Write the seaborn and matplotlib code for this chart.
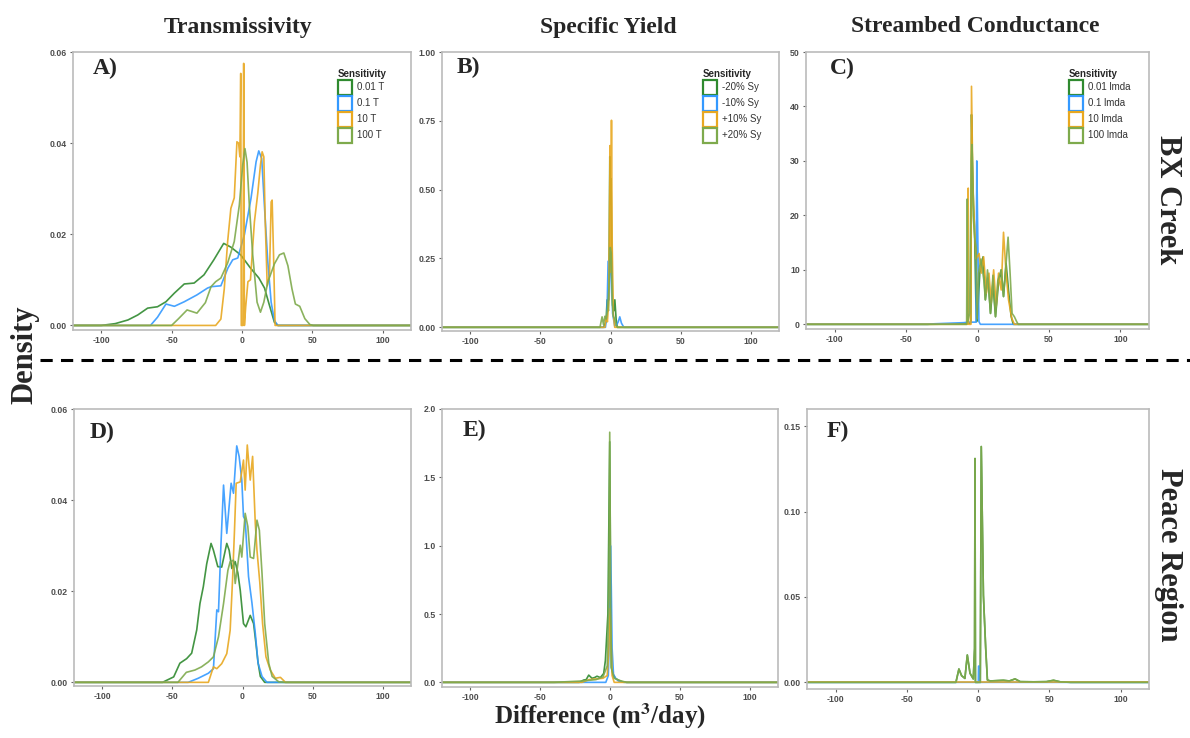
import matplotlib
matplotlib.use("Agg")
import matplotlib.pyplot as plt
from matplotlib.patches import Patch
from matplotlib.lines import Line2D
import pandas as pd
import seaborn as sns

# ---------------- data ----------------
# Panel A : BX Creek, Transmissivity
A_x_001 = [-120, -100, -90, -81, -74, -67, -60, -54, -48, -41, -34, -27, -20, -13, -8, -1, 6, 12, 16, 19.5, 23, 25.5, 120]
A_y_001 = [0, 0, 0.0004, 0.0012, 0.0023, 0.0038, 0.0041, 0.0052, 0.0071, 0.0091, 0.0093, 0.0111, 0.0144, 0.018, 0.0172, 0.0155, 0.0126, 0.0104, 0.0082, 0.0044, 0.0007, 0, 0]
A_x_01 = [-120, -65, -60, -54, -48, -41, -32, -24.5, -22, -15, -10, -6.6, -3, 1.7, 6.4, 10, 11.9, 14, 15.9, 18.3, 20.7, 23, 25.4, 120]
A_y_01 = [0, 0, 0.0018, 0.0047, 0.0042, 0.0052, 0.0067, 0.0082, 0.0085, 0.0087, 0.0126, 0.0144, 0.0148, 0.0199, 0.0279, 0.0359, 0.0383, 0.0366, 0.0264, 0.014, 0.0051, 0.0011, 0, 0]
A_x_10 = [-120, -18.7, -15, -12.6, -10.2, -7.9, -5.5, -3.6, -2.4, -1.5, -0.9, -0.5, 0.7, 1.2, 1.7, 2.6, 4.2, 6, 8.8, 11.2, 13.1, 14.3, 15.5, 16.5, 17.9, 19.5, 20.7, 21.4, 22.4, 23.5, 120]
A_y_10 = [0, 0, 0.0014, 0.008, 0.0184, 0.0257, 0.028, 0.0403, 0.040, 0.037, 0.0553, 0, 0, 0.0575, 0, 0.004, 0.0096, 0.0100, 0.0227, 0.029, 0.0352, 0.0381, 0.037, 0.0227, 0.0087, 0.0109, 0.0271, 0.0275, 0.0154, 0, 0]
A_x_100 = [-120, -50, -45, -39, -32, -26, -22, -18.7, -15, -10.2, -5.5, -1.9, 0.5, 2.1, 3.6, 5.2, 7.6, 10.7, 13.1, 15.5, 18.3, 23, 26.6, 29.7, 32.6, 35.5, 37.9, 41, 44.6, 48.2, 50.6, 120]
A_y_100 = [0, 0, 0.0015, 0.0034, 0.0027, 0.005, 0.0085, 0.0096, 0.0104, 0.0137, 0.0184, 0.0264, 0.0352, 0.0388, 0.0358, 0.0264, 0.0155, 0.0051, 0.0029, 0.0051, 0.0095, 0.0135, 0.0155, 0.0159, 0.0131, 0.008, 0.0047, 0.0042, 0.0015, 0.0002, 0, 0]

# Panel B : BX Creek, Specific Yield
B_x_m20 = [-120, -5, -3.2, -2.4, -1.5, -0.9, -0.5, 0, 0.4, 0.8, 1.5, 2.4, 3.1, 4, 4.8, 120]
B_y_m20 = [0, 0, 0.02, 0.10, 0.06, 0.3, 0.62, 0.45, 0.54, 0.3, 0.08, 0.06, 0.10, 0.03, 0, 0]
B_x_m10 = [-120, -3.6, -2.5, -1.7, -1.0, -0.3, 0.5, 1.5, 3, 4.5, 5.5, 6.6, 7.8, 9.5, 120]
B_y_m10 = [0, 0, 0.05, 0.24, 0.1, 0.2, 0.28, 0.05, 0.005, 0.01, 0.02, 0.038, 0.015, 0, 0]
B_x_p10 = [-120, -4, -3.1, -2.2, -1.2, -0.3, 0.1, 0.7, 1.2, 2, 3, 120]
B_y_p10 = [0, 0, 0.04, 0.02, 0.1, 0.66, 0.2, 0.752, 0.3, 0.05, 0, 0]
B_x_p20 = [-120, -7.5, -6, -5, -4, -3, -2, -1, -0.2, 0.5, 1.2, 2, 3, 4, 5, 120]
B_y_p20 = [0, 0, 0.038, 0.01, 0.04, 0.03, 0.07, 0.15, 0.29, 0.27, 0.1, 0.04, 0.03, 0.01, 0, 0]

# Panel C : BX Creek, Streambed Conductance
C_x_001 = [-120, -35, -20, -10, -5.5, -4.6, -4.2, -3.6, -2.8, -2.1, -1.2, -0.6, 0.2, 1.6, 3.9, 5.5, 7.3, 9.1, 10.8, 12.6, 14.5, 16.6, 18.2, 20, 21.8, 23.5, 25, 120]
C_y_001 = [0, 0, 0.05, 0.1, 0.2, 0.3, 38.5, 30, 22, 18, 5, 0.5, 2.5, 9.4, 12.4, 4.5, 8.5, 2.0, 7.5, 1.4, 7, 10.0, 5.1, 11.2, 6, 1.5, 0, 0]
C_x_01 = [-120, -35, -30, -20, -10, -6, -1.0, -0.5, 0, 0.5, 1.0, 2, 120]
C_y_01 = [0, 0, 0.1, 0.2, 0.3, 0.4, 0.4, 30, 20, 10, 0.5, 0, 0]
C_x_10 = [-120, -7, -6.5, -6.2, -4.6, -4.2, -3.2, -2.0, -1.0, 0, 1.1, 2.7, 4.3, 6.2, 8.0, 9.6, 11.3, 13.1, 14.7, 16.6, 18.2, 20, 21.7, 24, 25.8, 120]
C_y_10 = [0, 0, 25, 0, 0, 43.7, 25, 17, 12, 12.5, 13.0, 9.4, 12.4, 5.7, 9.4, 3.9, 10.0, 3.3, 9.4, 6.3, 16.9, 9.4, 4.5, 1.1, 0, 0]
C_x_100 = [-120, -7.6, -7.2, -6.8, -5.5, -4.3, -3.8, -3, -2, -1, -0.3, 0.8, 2.4, 4.5, 5.5, 7.0, 9.1, 10.8, 12.6, 14.2, 16.6, 18.2, 20, 21.4, 22.8, 24.2, 25.8, 27.4, 28.5, 120]
C_y_100 = [0, 0, 23, 0.5, 2, 30, 33, 20, 16, 14, 1, 9.4, 12.0, 8, 4.5, 10, 2.0, 9, 1.4, 8, 10.0, 5.1, 11.2, 16, 9.4, 2.0, 1.4, 0.5, 0, 0]

# Panel D : Peace Region, Transmissivity
D_x_001 = [-120, -57, -49, -44.6, -39.8, -36.2, -32.6, -30.3, -27.9, -25.5, -22.4, -20.7, -17.6, -14.8, -11.2, -9.5, -7.6, -5.2, -3.3, -1.6, 0.7, 2.4, 5.5, 7.9, 9.6, 11, 12.7, 15.8, 120]
D_y_001 = [0, 0, 0.0012, 0.0042, 0.0052, 0.0064, 0.0115, 0.0173, 0.021, 0.026, 0.0305, 0.029, 0.0254, 0.0253, 0.0305, 0.029, 0.025, 0.0265, 0.024, 0.0202, 0.0129, 0.0122, 0.0147, 0.0129, 0.0085, 0.0045, 0.0013, 0, 0]
D_x_01 = [-120, -38.7, -31.5, -24.3, -20.7, -18.3, -17.1, -15.4, -13.5, -11.2, -8.1, -6.4, -4.1, -2.4, -0.5, 0.7, 1.9, 4.3, 6.7, 9.1, 11.1, 13.9, 17.4, 120]
D_y_01 = [0, 0, 0.0009, 0.002, 0.003, 0.0159, 0.0155, 0.0298, 0.0433, 0.0327, 0.0437, 0.0415, 0.0519, 0.0496, 0.0444, 0.0364, 0.0357, 0.0232, 0.0175, 0.0108, 0.0042, 0.0013, 0, 0]
D_x_10 = [-120, -24.3, -20.7, -18.3, -14.8, -11.2, -8.8, -7.1, -5.7, -4.5, -1.6, 0.7, 1.9, 3.4, 5.5, 7.2, 9.1, 10.3, 12.3, 14.3, 16.7, 19.8, 23.4, 27, 30.6, 120]
D_y_10 = [0, 0, 0.0034, 0.0030, 0.0041, 0.0063, 0.0114, 0.0224, 0.0334, 0.0437, 0.044, 0.0488, 0.0422, 0.0521, 0.0444, 0.0496, 0.0349, 0.029, 0.022, 0.0129, 0.0056, 0.0027, 0.0009, 0.0011, 0, 0]
D_x_100 = [-120, -46, -40, -33.9, -29.2, -24.3, -20.7, -17.1, -13.5, -10.4, -8.8, -6.4, -5.2, -3.3, -1.6, -0.5, 1.9, 3.8, 5.5, 7.9, 10.3, 12, 13.9, 15.8, 18.7, 21.1, 25.9, 30.6, 120]
D_y_100 = [0, 0, 0.0022, 0.0027, 0.0034, 0.0045, 0.0056, 0.01, 0.0173, 0.0246, 0.0265, 0.0268, 0.0217, 0.026, 0.0301, 0.0275, 0.0371, 0.0342, 0.0275, 0.0272, 0.0356, 0.0334, 0.0239, 0.0129, 0.0042, 0.0013, 0.0001, 0, 0]

# Panel E : Peace Region, Specific Yield
E_x_m20 = [-120, -22, -18.8, -17, -15.2, -12.9, -11, -9.3, -6.9, -4.5, -3.3, -1.5, -0.2, 0.4, 0.9, 2, 3.8, 6, 8.6, 12, 120]
E_y_m20 = [0, 0, 0.017, 0.02, 0.053, 0.03, 0.035, 0.045, 0.035, 0.065, 0.16, 0.5, 1.76, 0.8, 0.11, 0.06, 0.03, 0.015, 0.005, 0, 0]
E_x_m10 = [-120, -3, -1.2, -0.3, 0.3, 0.9, 1.5, 2.5, 4, 6, 10, 120]
E_y_m10 = [0, 0, 0.05, 0.4, 1.0, 0.7, 0.25, 0.06, 0.03, 0.01, 0, 0]
E_x_p10 = [-120, -20, -15, -10, -5, -2, -1, 0.1, 0.8, 1.5, 3, 120]
E_y_p10 = [0, 0, 0.02, 0.025, 0.03, 0.05, 0.2, 0.54, 0.3, 0.05, 0, 0]
E_x_p20 = [-120, -40, -30, -20, -10, -5, -2, -0.8, -0.2, 0.5, 1.2, 3, 8, 12, 120]
E_y_p20 = [0, 0, 0.005, 0.01, 0.02, 0.04, 0.12, 0.6, 1.83, 0.5, 0.1, 0.03, 0.01, 0, 0]

# Panel F : Peace Region, Streambed Conductance
F_x_100 = [-120, -15.5, -13.4, -11.5, -9.2, -7.5, -5.6, -3.3, -2.4, -2.1, -1.8, 1.6, 2.3, 3.8, 5.4, 6.6, 8.5, 13.1, 17.8, 22, 26, 29.6, 39, 48, 53, 57.7, 65, 120]
F_y_100 = [0, 0, 0.0078, 0.0039, 0.0023, 0.016, 0.0053, 0.002, 0.02, 0.131, 0, 0, 0.138, 0.051, 0.02, 0.0014, 0.0008, 0.001, 0.0012, 0.0008, 0.002, 0.0004, 0.0003, 0.0004, 0.0012, 0.0003, 0, 0]
F_x_001 = F_x_100
F_y_001 = F_y_100
F_x_01 = [-120, 0.2, 0.4, 1.0, 1.3, 120]
F_y_01 = [0, 0, 0.0095, 0.0095, 0, 0]
F_x_10 = [-120, 120]
F_y_10 = [0, 0]

labels_T = ["0.01 T", "0.1 T", "10 T", "100 T"]
labels_Sy = ["-20% Sy", "-10% Sy", "+10% Sy", "+20% Sy"]
labels_L = ["0.01 lmda", "0.1 lmda", "10 lmda", "100 lmda"]

x_ticks = [-100, -50, 0, 50, 100]
x_tick_labels = ["-100", "-50", "0", "50", "100"]
yticks_A = [0.00, 0.02, 0.04, 0.06]
ylabels_A = ["0.00", "0.02", "0.04", "0.06"]
yticks_B = [0.00, 0.25, 0.50, 0.75, 1.00]
ylabels_B = ["0.00", "0.25", "0.50", "0.75", "1.00"]
yticks_C = [0, 10, 20, 30, 40, 50]
ylabels_C = ["0", "10", "20", "30", "40", "50"]
yticks_D = [0.00, 0.02, 0.04, 0.06]
ylabels_D = ["0.00", "0.02", "0.04", "0.06"]
yticks_E = [0.0, 0.5, 1.0, 1.5, 2.0]
ylabels_E = ["0.0", "0.5", "1.0", "1.5", "2.0"]
yticks_F = [0.00, 0.05, 0.10, 0.15]
ylabels_F = ["0.00", "0.05", "0.10", "0.15"]

colors = ["#2F8A2F", "#3399FF", "#E8A820", "#7EAA4C"]

# ---------------- style ----------------
sns.set_style("ticks")
plt.rcParams['font.family'] = ['Liberation Sans', 'DejaVu Sans']
plt.rcParams['mathtext.fontset'] = 'stix'
SERIF = ['Liberation Serif', 'DejaVu Serif']

fig = plt.figure(figsize=(11.9, 7.38), dpi=100)

W, H = 1190.0, 738.0
def box(l, r, t, b):
    return [l / W, 1 - b / H, (r - l) / W, (b - t) / H]

panels = [
    dict(pos=box(73, 411, 52, 330), series=[(A_x_001, A_y_001), (A_x_01, A_y_01), (A_x_10, A_y_10), (A_x_100, A_y_100)],
         ylim=(-0.001, 0.06), yt=yticks_A, yl=ylabels_A, letter="A)", lpos=(0.059, 0.942), leg=labels_T, legx=0.784),
    dict(pos=box(442, 779, 52, 331), series=[(B_x_m20, B_y_m20), (B_x_m10, B_y_m10), (B_x_p10, B_y_p10), (B_x_p20, B_y_p20)],
         ylim=(-0.0134, 1.0), yt=yticks_B, yl=ylabels_B, letter="B)", lpos=(0.044, 0.946), leg=labels_Sy, legx=0.774),
    dict(pos=box(806, 1149, 52, 329), series=[(C_x_001, C_y_001), (C_x_01, C_y_01), (C_x_10, C_y_10), (C_x_100, C_y_100)],
         ylim=(-0.86, 50), yt=yticks_C, yl=ylabels_C, letter="C)", lpos=(0.07, 0.94), leg=labels_L, legx=0.767),
    dict(pos=box(74, 411, 409, 686), series=[(D_x_001, D_y_001), (D_x_01, D_y_01), (D_x_10, D_y_10), (D_x_100, D_y_100)],
         ylim=(-0.0008, 0.06), yt=yticks_D, yl=ylabels_D, letter="D)", lpos=(0.047, 0.917), leg=None, legx=None),
    dict(pos=box(442, 778, 409, 687), series=[(E_x_m20, E_y_m20), (E_x_m10, E_y_m10), (E_x_p10, E_y_p10), (E_x_p20, E_y_p20)],
         ylim=(-0.034, 2.0), yt=yticks_E, yl=ylabels_E, letter="E)", lpos=(0.062, 0.924), leg=None, legx=None),
    dict(pos=box(807, 1149, 409, 689), series=[(F_x_001, F_y_001), (F_x_01, F_y_01), (F_x_10, F_y_10), (F_x_100, F_y_100)],
         ylim=(-0.0039, 0.16), yt=yticks_F, yl=ylabels_F, letter="F)", lpos=(0.058, 0.919), leg=None, legx=None),
]

for p in panels:
    ax = fig.add_axes(p["pos"])
    frames = []
    for i, (xs, ys) in enumerate(p["series"]):
        frames.append(pd.DataFrame({"x": xs, "y": ys, "grp": i}))
    df = pd.concat(frames, ignore_index=True)
    sns.lineplot(data=df, x="x", y="y", hue="grp", palette=colors, hue_order=[0, 1, 2, 3],
                 estimator=None, sort=False, legend=False, linewidth=1.2, alpha=0.9, ax=ax)
    ax.set_xlim(-120, 120)
    ax.set_ylim(*p["ylim"])
    ax.set_xticks(x_ticks)
    ax.set_xticklabels(x_tick_labels)
    ax.set_yticks(p["yt"])
    ax.set_yticklabels(p["yl"])
    ax.set_xlabel("")
    ax.set_ylabel("")
    for s in ax.spines.values():
        s.set_visible(True)
        s.set_color("#BBBBBB")
        s.set_linewidth(1.2)
    ax.tick_params(axis="both", length=2.5, width=0.8, color="#666666", labelsize=6.3,
                   labelcolor="#4D4D4D", pad=2)
    for lab in ax.get_xticklabels() + ax.get_yticklabels():
        lab.set_fontweight("bold")
    ax.text(p["lpos"][0], p["lpos"][1], p["letter"], transform=ax.transAxes, ha="left", va="center",
            fontsize=17, fontweight="bold", family=SERIF)
    if p["leg"] is not None:
        handles = [Patch(facecolor="white", edgecolor=c, linewidth=1.6, label=l) for c, l in zip(colors, p["leg"])]
        leg = ax.legend(handles=handles, title="Sensitivity", loc="upper left", bbox_to_anchor=(p["legx"], 0.94),
                        frameon=False, fontsize=7, title_fontsize=7, handlelength=1.44, handleheight=2.0,
                        labelspacing=0.1, handletextpad=0.55, borderpad=0.0, borderaxespad=0)
        leg.get_title().set_fontweight("bold")
        for t in leg.get_texts():
            t.set_color("#333333")
        leg._legend_box.align = "left"

# column titles
fig.text(238 / W, 1 - 27 / H, "Transmissivity", ha="center", va="center", fontsize=17, fontweight="bold", family=SERIF)
fig.text(608 / W, 1 - 27 / H, "Specific Yield", ha="center", va="center", fontsize=17, fontweight="bold", family=SERIF)
fig.text(975 / W, 1 - 27 / H, "Streambed Conductance", ha="center", va="center", fontsize=17, fontweight="bold", family=SERIF)

# row labels
fig.text(1168 / W, 1 - 200 / H, "BX Creek", ha="center", va="center", rotation=270, fontsize=22, fontweight="bold", family=SERIF)
fig.text(1168 / W, 1 - 555 / H, "Peace Region", ha="center", va="center", rotation=270, fontsize=22, fontweight="bold", family=SERIF)

# shared axis labels
fig.text(25 / W, 1 - 355 / H, "Density", ha="center", va="center", rotation=90, fontsize=22, fontweight="bold", family=SERIF)
fig.text(600 / W, 1 - 716 / H, r"Difference (m$^{\mathbf{3}}$/day)", ha="center", va="center", fontsize=18,
         fontweight="bold", family=SERIF)

# dashed separator
fig.add_artist(Line2D([40 / W, 1.0], [1 - 360 / H, 1 - 360 / H], transform=fig.transFigure,
                      color="black", linewidth=2.2, linestyle=(0, (4, 2.7))))

fig.savefig("out.png", dpi=100)
